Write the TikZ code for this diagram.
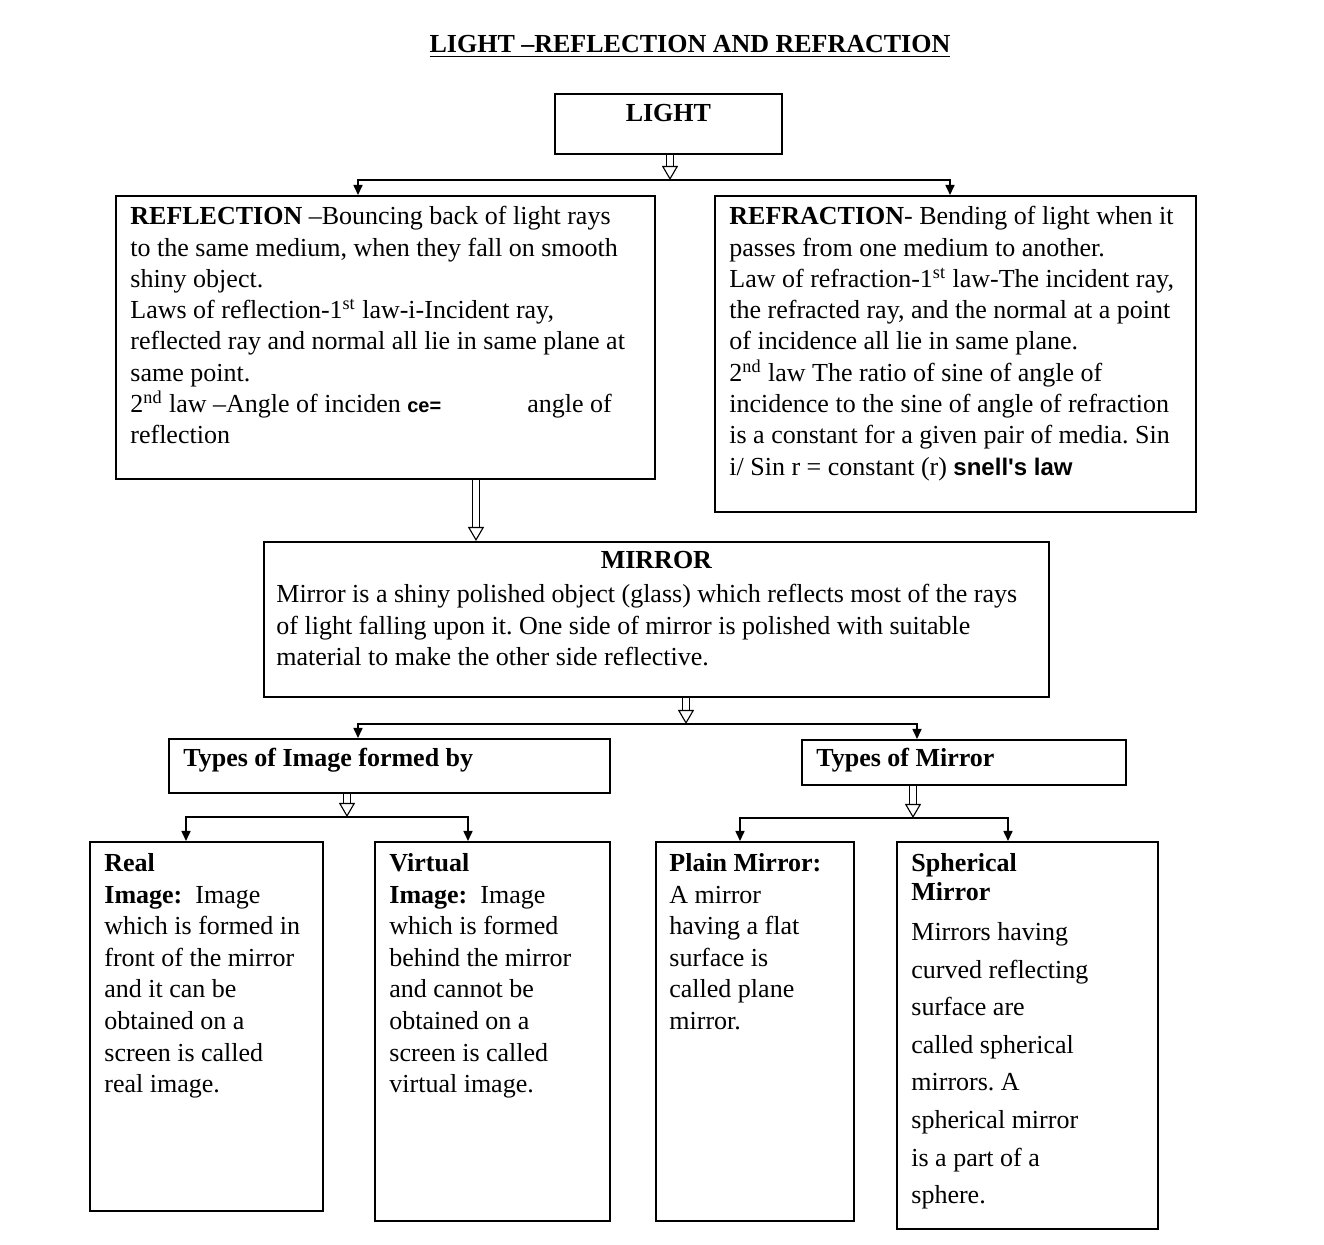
\documentclass[tikz,border=0pt]{standalone}
\usepackage{fontspec}
\setmainfont{Liberation Serif}
\newfontfamily\arialfont{Liberation Sans}
\usetikzlibrary{positioning,arrows.meta}
\newdimen\px \px=0.5pt
\frenchspacing

\begin{document}
\begin{tikzpicture}[x=0.5pt, y=-0.5pt,
  box/.style={draw, line width=0.9pt, anchor=north west, inner sep=0pt},
  txt/.style={anchor=north west, inner sep=0pt, align=left, font=\fontsize{13}{15.65}\selectfont},
  arr/.style={-{Triangle[length=5pt, width=4.5pt]}, line width=0.8pt},
  hollow/.style={double, double distance=3pt, line width=0.55pt, -{Triangle[open, length=7pt, width=8pt]}}]
\useasboundingbox (0,0) rectangle (1324,1245);

% title
\node[anchor=base, inner sep=0pt, font=\fontsize{13}{15}\selectfont\bfseries] (title) at (690,53) {\underline{LIGHT –REFLECTION AND REFRACTION}};

% boxes
\node[box, minimum width=227\px, minimum height=60\px] (light) at (554,93) {};
\node[box, minimum width=539\px, minimum height=283\px] (refl) at (115,195) {};
\node[box, minimum width=481\px, minimum height=316\px] (refr) at (714,195) {};
\node[box, minimum width=785\px, minimum height=155\px] (mirror) at (263,541) {};
\node[box, minimum width=441\px, minimum height=54\px] (imgtype) at (168,738) {};
\node[box, minimum width=324\px, minimum height=45\px] (mirtype) at (801,739) {};
\node[box, minimum width=233\px, minimum height=369\px] (real) at (89,841) {};
\node[box, minimum width=235\px, minimum height=379\px] (virt) at (374,841) {};
\node[box, minimum width=198\px, minimum height=379\px] (plain) at (655,841) {};
\node[box, minimum width=261\px, minimum height=387\px] (spher) at (896,841) {};

% texts
\node[anchor=base, inner sep=0pt, font=\fontsize{13}{15}\selectfont\bfseries] (lighttxt) at ([yshift=-29\px]light.north) {LIGHT};
\node[txt] (refltxt) at ([shift={(15,11)}]refl.north west) {\textbf{REFLECTION} –Bouncing back of light rays\\
  to the same medium, when they fall on smooth\\
  shiny object.\\
  Laws of reflection-1\textsuperscript{st} law-i-Incident ray,\\
  reflected ray and normal all lie in same plane at\\
  same point.\\
  2\textsuperscript{nd} law –Angle of inciden {\arialfont\bfseries\fontsize{10}{15.65}\selectfont ce=}\hspace{43pt}angle of\\
  reflection};
\node[txt] (refrtxt) at ([shift={(15,11)}]refr.north west) {\textbf{REFRACTION}- Bending of light when it\\
  passes from one medium to another.\\
  Law of refraction-1\textsuperscript{st} law-The incident ray,\\
  the refracted ray, and the normal at a point\\
  of incidence all lie in same plane.\\
  2\textsuperscript{nd} law The ratio of sine of angle of\\
  incidence to the sine of angle of refraction\\
  is a constant for a given pair of media. Sin\\
  i/ Sin r = constant (r) {\arialfont\bfseries\fontsize{12}{15.65}\selectfont snell's law}};
\node[anchor=base, inner sep=0pt, font=\fontsize{13}{15}\selectfont\bfseries] (mirrorhead) at ([yshift=-28\px]mirror.north) {MIRROR};
\node[txt] (mirrortxt) at ([shift={(13,43)}]mirror.north west) {Mirror is a shiny polished object (glass) which reflects most of the rays\\
  of light falling upon it. One side of mirror is polished with suitable\\
  material to make the other side reflective.};
\node[txt, font=\fontsize{13}{15.65}\selectfont\bfseries] (imgtxt) at ([shift={(15,10)}]imgtype.north west) {Types of Image formed by};
\node[txt, font=\fontsize{13}{15.65}\selectfont\bfseries] (mirtxt) at ([shift={(15,9)}]mirtype.north west) {Types of Mirror};
\node[txt, font=\fontsize{13}{15.8}\selectfont] (realtxt) at ([shift={(15,12)}]real.north west) {\textbf{Real}\\
  \textbf{Image:}~ Image\\
  which is formed in\\
  front of the mirror\\
  and it can be\\
  obtained on a\\
  screen is called\\
  real image.};
\node[txt, font=\fontsize{13}{15.8}\selectfont] (virttxt) at ([shift={(15,12)}]virt.north west) {\textbf{Virtual}\\
  \textbf{Image:}~ Image\\
  which is formed\\
  behind the mirror\\
  and cannot be\\
  obtained on a\\
  screen is called\\
  virtual image.};
\node[txt, font=\fontsize{13}{15.8}\selectfont] (plaintxt) at ([shift={(14,12)}]plain.north west) {\textbf{Plain Mirror:}\\
  A mirror\\
  having a flat\\
  surface is\\
  called plane\\
  mirror.};
\node[txt, font=\fontsize{13}{14.5}\selectfont] (sphertxt) at ([shift={(15,12)}]spher.north west) {\textbf{Spherical}\\
  \textbf{Mirror}\\[5.5pt]
  Mirrors having\\[4.3pt]
  curved reflecting\\[4.3pt]
  surface are\\[4.3pt]
  called spherical\\[4.3pt]
  mirrors. A\\[4.3pt]
  spherical mirror\\[4.3pt]
  is a part of a\\[4.3pt]
  sphere.};

% junctions
\coordinate (j1) at (670,180);
\coordinate (j2) at (686,724);
\coordinate (j3) at (347,817);
\coordinate (j4) at (913,818);

% connectors
\draw[hollow] ([xshift=116\px]light.south west) -- (j1);
\draw[arr] (j1) -| ([xshift=243\px]refl.north west);
\draw[arr] (j1) -| ([xshift=236\px]refr.north west);
\draw[hollow] ([xshift=361\px]refl.south west) coordinate (r1) -- (r1 |- mirror.north);
\draw[hollow] ([xshift=423\px]mirror.south west) -- (j2);
\draw[arr] (j2) -| ([xshift=190\px]imgtype.north west);
\draw[arr] (j2) -| ([xshift=116\px]mirtype.north west);
\draw[hollow] ([xshift=179\px]imgtype.south west) -- (j3);
\draw[arr] (j3) -| ([xshift=97\px]real.north west);
\draw[arr] (j3) -| ([xshift=94\px]virt.north west);
\draw[hollow] ([xshift=112\px]mirtype.south west) -- (j4);
\draw[arr] (j4) -| ([xshift=85\px]plain.north west);
\draw[arr] (j4) -| ([xshift=112\px]spher.north west);
\end{tikzpicture}
\end{document}
